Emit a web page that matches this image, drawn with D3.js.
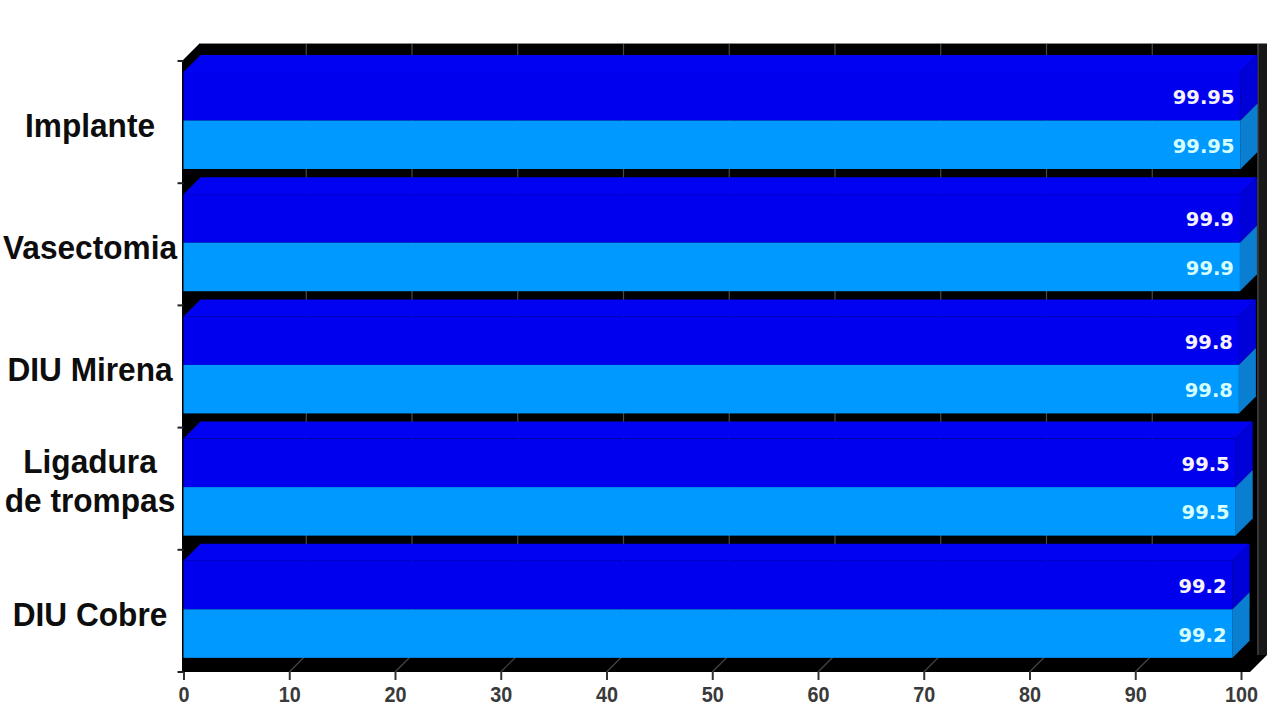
<!DOCTYPE html>
<html>
<head>
<meta charset="utf-8">
<script src="https://cdn.jsdelivr.net/npm/d3@7"></script>
<style>
  html, body { margin: 0; padding: 0; background: #fff; }
  svg { display: block; }
</style>
</head>
<body>
<svg id="chart" width="1280" height="720"></svg>
<script>
// ---- data ----
const categories = ["Implante", "Vasectomia", "DIU Mirena", "Ligadura de trompas", "DIU Cobre"];
const categoryLines = [["Implante"], ["Vasectomia"], ["DIU Mirena"], ["Ligadura", "de trompas"], ["DIU Cobre"]];
const seriesNames = ["serie1", "serie2"];
const serie1 = [99.95, 99.9, 99.8, 99.5, 99.2];
const serie2 = [99.95, 99.9, 99.8, 99.5, 99.2];
const valueLabels1 = ["99.95", "99.9", "99.8", "99.5", "99.2"];
const valueLabels2 = ["99.95", "99.9", "99.8", "99.5", "99.2"];
const xTicks = [0, 10, 20, 30, 40, 50, 60, 70, 80, 90, 100];

// ---- layout ----
const svg = d3.select("#chart");
const D = 17; // 3D depth
const x = d3.scaleLinear().domain([0, 100]).range([183.5, 1241]);
const y = d3.scaleBand().domain(categories).range([61, 672]).padding(0);
const bw = y.bandwidth();
const ys = d3.scaleBand().domain(seriesNames).range([bw * 0.09, bw * 0.884]).padding(0);

const colors = {
  serie1: { front: "#0000ee", top: "#0202f3", side: "#0000d8", label: "#f6f2ff" },
  serie2: { front: "#0099ff", top: "#1aa3ff", side: "#0a7fd2", label: "#d6ffff" }
};

const x0 = x(0), xr = x(100), yTop = y.range()[0], yBot = y.range()[1];

// wall + floor (black)
svg.append("polygon")
  .attr("points", [[x0 - 1.5, yTop], [x0 + D - 1.5, yTop - D], [xr + D + 9, yTop - D], [xr + D + 9, yBot - D], [xr + 9, yBot], [x0 - 1.5, yBot]].map(p => p.join(",")).join(" "))
  .attr("fill", "#000");
svg.append("rect").attr("x", xr + D - 1).attr("y", yTop - D).attr("width", 10).attr("height", yBot - yTop)
  .attr("fill", "#181818");
svg.append("line").attr("x1", x0 + D - 1.5).attr("x2", xr + D + 9).attr("y1", yTop - D - 0.5).attr("y2", yTop - D - 0.5)
  .attr("stroke", "#8a8a8a").attr("stroke-width", 1);

// back-wall gridlines
svg.append("g").selectAll("line").data(xTicks.slice(1)).join("line")
  .attr("x1", d => x(d) + D).attr("x2", d => x(d) + D)
  .attr("y1", yTop - D).attr("y2", yBot - D)
  .attr("stroke", "#4a4a4a").attr("stroke-width", 1.2);
// floor gridlines
svg.append("g").selectAll("line").data(xTicks.slice(1, -1)).join("line")
  .attr("x1", d => x(d)).attr("x2", d => x(d) + D)
  .attr("y1", yBot).attr("y2", yBot - D)
  .attr("stroke", "#444").attr("stroke-width", 1.2);

// bars
const bars = svg.append("g");
categories.forEach((cat, i) => {
  const vals = { serie1: serie1[i], serie2: serie2[i] };
  const labs = { serie1: valueLabels1[i], serie2: valueLabels2[i] };
  const g = bars.append("g");
  seriesNames.forEach((s, k) => {
    const t = y(cat) + ys(s), b = t + ys.bandwidth(), xe = x(vals[s]);
    const c = colors[s];
    if (k === 0) {
      g.append("polygon")
        .attr("points", [[x0, t], [xe, t], [xe + D, t - D], [x0 + D, t - D]].map(p => p.join(",")).join(" "))
        .attr("fill", c.top);
    }
    g.append("polygon")
      .attr("points", [[xe, t], [xe + D, t - D], [xe + D, b - D], [xe, b]].map(p => p.join(",")).join(" "))
      .attr("fill", c.side);
    g.append("rect").attr("x", x0).attr("y", t).attr("width", xe - x0).attr("height", b - t)
      .attr("fill", c.front);
  });
  seriesNames.forEach(s => {
    const t = y(cat) + ys(s), xe = x(vals[s]);
    g.append("text")
      .attr("x", xe - 6).attr("y", t + ys.bandwidth() / 2 + 8)
      .attr("text-anchor", "end")
      .attr("font-family", "'DejaVu Sans', sans-serif").attr("font-weight", "bold").attr("font-size", 19.5)
      .attr("fill", colors[s].label)
      .text(labs[s]);
  });
});

// left axis ticks
svg.append("g").selectAll("line").data(d3.range(categories.length + 1)).join("line")
  .attr("x1", x0 - 6).attr("x2", x0)
  .attr("y1", d => yTop + d * bw).attr("y2", d => yTop + d * bw)
  .attr("stroke", "#222").attr("stroke-width", 2);

// bottom axis
const xAxis = d3.axisBottom(x).tickValues(xTicks).tickSize(8).tickPadding(6).tickFormat(d3.format("d"));
const ax = svg.append("g").attr("transform", `translate(0,${yBot})`).call(xAxis);
ax.select(".domain").remove();
ax.selectAll(".tick line").attr("stroke", "#333").attr("stroke-width", 2);
ax.selectAll(".tick text")
  .attr("font-family", "'Liberation Sans', Arial, sans-serif").attr("font-weight", "bold")
  .attr("font-size", 22).attr("fill", "#3a3a3a")
  .attr("transform", "scale(0.9,1)")
  .attr("x", 0);
ax.selectAll(".tick").each(function() {
  // keep labels centred under ticks after horizontal condensing
  d3.select(this).select("text").attr("transform", "scale(0.9,1)");
});

// category labels
const catG = svg.append("g");
categories.forEach((cat, i) => {
  const lines = categoryLines[i];
  const c = y(cat) + bw / 2;
  const n = lines.length;
  const base0 = c + 15 - (n - 1) * 30.5;
  const txt = catG.append("text")
    .attr("transform", "translate(90,0) scale(0.93,1)")
    .attr("text-anchor", "middle")
    .attr("font-family", "'Liberation Sans', Arial, sans-serif").attr("font-weight", "bold")
    .attr("font-size", 34).attr("fill", "#0d0d0d");
  lines.forEach((ln, j) => {
    txt.append("tspan").attr("x", 0).attr("y", base0 + j * 39).text(ln);
  });
});
</script>
</body>
</html>
